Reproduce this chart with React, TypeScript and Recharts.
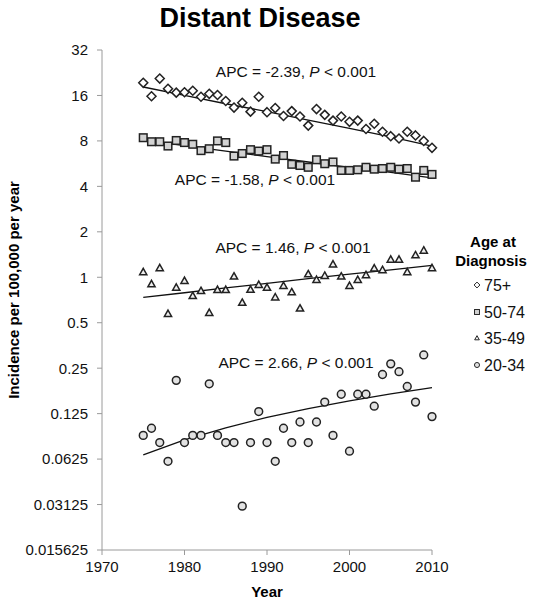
import React from 'react';
import { ComposedChart, Scatter, Line, XAxis, YAxis } from 'recharts';

const years = [
    1975, 1976, 1977, 1978, 1979, 1980, 1981, 1982, 1983, 1984, 1985, 1986,
    1987, 1988, 1989, 1990, 1991, 1992, 1993, 1994, 1995, 1996, 1997, 1998,
    1999, 2000, 2001, 2002, 2003, 2004, 2005, 2006, 2007, 2008, 2009, 2010,
];

const age75plus = [
    19.4, 15.8, 20.7, 17.7, 16.7, 16.8, 17.2, 15.7, 16.4, 16.1, 14.7, 13.3,
    14.3, 12.5, 15.7, 12.4, 13.2, 11.7, 12.6, 11.6, 10.1, 13.0, 11.9, 10.9,
    11.6, 10.7, 10.9, 9.6, 10.4, 9.2, 8.6, 8.3, 9.2, 8.7, 8.0, 7.2,
];
const age50to74 = [
    8.4, 7.9, 7.9, 7.4, 8.05, 7.8, 7.6, 6.9, 7.1, 8.0, 7.8, 6.35,
    6.6, 7.0, 6.85, 7.0, 6.06, 6.4, 5.6, 5.5, 5.35, 6.0, 5.65, 5.8,
    5.1, 5.1, 5.15, 5.35, 5.2, 5.25, 5.35, 5.2, 5.25, 4.6, 5.1, 4.8,
];
const age35to49 = [
    1.086, 0.903, 1.154, 0.574, 0.857, 0.95, 0.754, 0.814, 0.583, 0.827, 0.827, 1.015,
    0.68, 0.83, 0.893, 0.857, 0.739, 0.88, 0.798, 0.623, 1.05, 0.965, 1.026, 1.222,
    1.015, 0.88, 0.965, 1.036, 1.149, 1.12, 1.313, 1.313, 1.086, 1.404, 1.508, 1.154,
];
const age20to34 = [
    0.0897, 0.1, 0.0804, 0.0604, 0.2076, 0.0804, 0.0897, 0.0897, 0.197, 0.0897, 0.0804, 0.0804,
    0.0305, 0.0804, 0.129, 0.0804, 0.0604, 0.1, 0.0804, 0.11, 0.0804, 0.11, 0.149, 0.0897,
    0.168, 0.0705, 0.168, 0.168, 0.14, 0.227, 0.267, 0.237, 0.189, 0.149, 0.306, 0.1195,
];

// fitted trend lines
const trendYears = [1975, 1980, 1985, 1990, 1995, 2000, 2005, 2010];
const trend75plus = [18.2, 16.0, 14.1, 12.5, 11.0, 9.7, 8.5, 7.4];
const trend50to74 = [8.1, 7.45, 6.85, 6.3, 5.8, 5.35, 4.95, 4.55];
const trend35to49 = [0.735, 0.79, 0.85, 0.91, 0.98, 1.05, 1.12, 1.2];
const trend20to34 = [0.0667, 0.0837, 0.1007, 0.118, 0.135, 0.152, 0.169, 0.186];

const xTicks = [1970, 1980, 1990, 2000, 2010];
const yTicks = [0.015625, 0.03125, 0.0625, 0.125, 0.25, 0.5, 1, 2, 4, 8, 16, 32];

const legendLabels = ['75+', '50-74', '35-49', '20-34'];
const apcLabels = ['-2.39', '-1.58', '1.46', '2.66'];

const FONT = '"Liberation Sans", Arial, sans-serif';

const toPoints = (vals: number[], xs: number[] = years) => vals.map((v, i) => ({ x: xs[i], y: v }));

type ShapeProps = { cx?: number; cy?: number };

const Diamond = ({ cx = 0, cy = 0 }: ShapeProps) => (
    <path d={`M${cx},${cy - 4.5}L${cx + 4.5},${cy}L${cx},${cy + 4.5}L${cx - 4.5},${cy}Z`}
        fill="#fff" stroke="#222" strokeWidth={1.5} />
);
const Square = ({ cx = 0, cy = 0 }: ShapeProps) => (
    <rect x={cx - 3.8} y={cy - 3.8} width={7.6} height={7.6} fill="#d2d2d2" stroke="#222" strokeWidth={1.5} />
);
const Triangle = ({ cx = 0, cy = 0 }: ShapeProps) => (
    <path d={`M${cx},${cy - 3.6}L${cx + 3.6},${cy + 2.8}L${cx - 3.6},${cy + 2.8}Z`}
        fill="#eee" stroke="#222" strokeWidth={1.5} />
);
const Circle = ({ cx = 0, cy = 0 }: ShapeProps) => (
    <circle cx={cx} cy={cy} r={3.9} fill="#e2e2e2" stroke="#222" strokeWidth={1.5} />
);

const series = [
    { name: legendLabels[0], data: toPoints(age75plus), trend: toPoints(trend75plus, trendYears), shape: Diamond },
    { name: legendLabels[1], data: toPoints(age50to74), trend: toPoints(trend50to74, trendYears), shape: Square },
    { name: legendLabels[2], data: toPoints(age35to49), trend: toPoints(trend35to49, trendYears), shape: Triangle },
    { name: legendLabels[3], data: toPoints(age20to34), trend: toPoints(trend20to34, trendYears), shape: Circle },
];

// annotation anchors (text centre) in page pixels
const apcPos = [
    { x: 296, y: 72 },
    { x: 255, y: 180 },
    { x: 293, y: 248 },
    { x: 296, y: 363 },
];

const legendY = [285, 312, 338, 365];

const App: React.FC = () => {
    const tickStyle = { fontFamily: FONT, fontSize: 15, fill: '#111' };
    return (
        <div style={{ position: 'absolute', left: 0, top: 0, width: 533, height: 600, background: '#fff' }}>
            <ComposedChart
                width={533}
                height={600}
                margin={{ top: 50, right: 101, bottom: 0, left: 0 }}
            >
                <XAxis
                    type="number"
                    dataKey="x"
                    domain={[1970, 2010]}
                    ticks={xTicks}
                    height={50}
                    stroke="#9a9a9a"
                    tickSize={5}
                    tickMargin={6}
                    tick={tickStyle}
                    allowDuplicatedCategory={false}
                />
                <YAxis
                    type="number"
                    dataKey="y"
                    scale="log"
                    domain={[0.015625, 32]}
                    ticks={yTicks}
                    width={102}
                    stroke="#9a9a9a"
                    tickSize={5}
                    tickMargin={9}
                    tick={tickStyle}
                    tickFormatter={(v: number) => String(v)}
                    allowDataOverflow
                />
                {series.map(s => (
                    <Line
                        key={`t-${s.name}`}
                        data={s.trend}
                        dataKey="y"
                        type="linear"
                        stroke="#111"
                        strokeWidth={1.3}
                        dot={false}
                        activeDot={false}
                        isAnimationActive={false}
                    />
                ))}
                {series.map(s => (
                    <Scatter
                        key={`s-${s.name}`}
                        name={s.name}
                        data={s.data}
                        dataKey="y"
                        shape={s.shape as any}
                        isAnimationActive={false}
                    />
                ))}
            </ComposedChart>
            <svg
                width={533}
                height={600}
                style={{ position: 'absolute', left: 0, top: 0, pointerEvents: 'none' }}
                fontFamily={FONT}
            >
                <text x={260} y={27} textAnchor="middle" fontSize={27} fontWeight="bold" fill="#000">
                    Distant Disease
                </text>
                {apcPos.map((p, i) => (
                    <text key={i} x={p.x} y={p.y + 5} textAnchor="middle" fontSize={15.5} fill="#111">
                        {`APC = ${apcLabels[i]}, `}
                        <tspan fontStyle="italic">P</tspan>
                        {' < 0.001'}
                    </text>
                ))}
                <text x={267} y={597} textAnchor="middle" fontSize={15} fontWeight="bold" fill="#000">
                    Year
                </text>
                <text
                    x={0}
                    y={0}
                    transform="translate(19,290) rotate(-90)"
                    textAnchor="middle"
                    fontSize={15}
                    fontWeight="bold"
                    fill="#000"
                >
                    Incidence per 100,000 per year
                </text>
                <text x={493} y={247} textAnchor="middle" fontSize={15} fontWeight="bold" fill="#000">
                    Age at
                </text>
                <text x={491} y={266} textAnchor="middle" fontSize={15} fontWeight="bold" fill="#000">
                    Diagnosis
                </text>
                {series.map((s, i) => {
                    const Shape = s.shape;
                    return (
                        <g key={s.name}>
                            <g transform={`translate(477,${legendY[i]}) scale(0.65) translate(-477,${-legendY[i]})`}>
                                <Shape cx={477} cy={legendY[i]} />
                            </g>
                            <text x={484} y={legendY[i] + 6} fontSize={16} fill="#111">
                                {s.name}
                            </text>
                        </g>
                    );
                })}
            </svg>
        </div>
    );
};

export default App;
